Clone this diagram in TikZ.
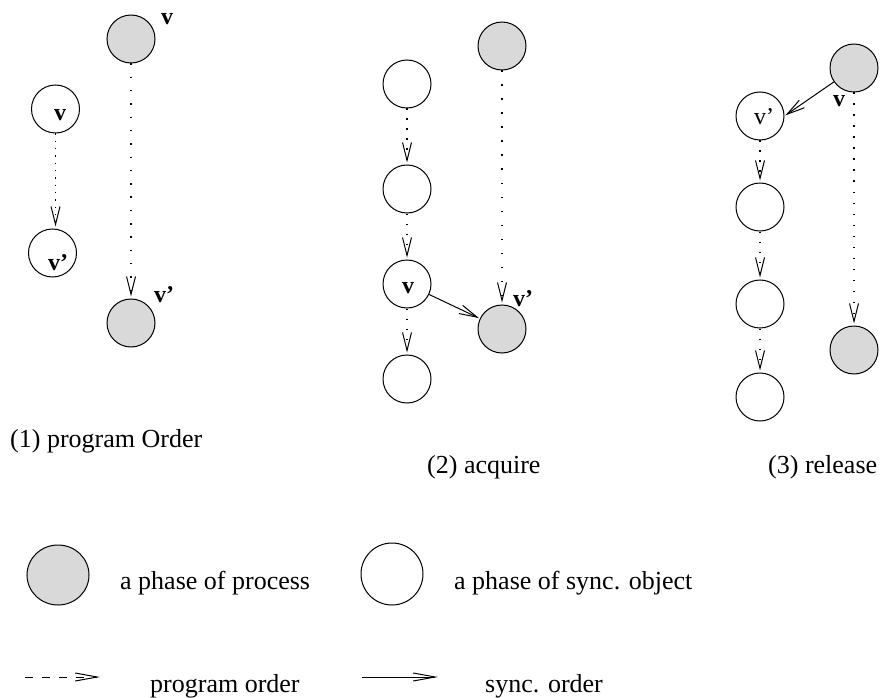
\documentclass[tikz,border=0pt]{standalone}
\usepackage{fontspec}
\setmainfont{Liberation Serif}
\usetikzlibrary{arrows.meta,shapes.geometric}
\definecolor{phasegray}{HTML}{D9D9D9}
\tikzset{
  phase/.style={circle, draw, line width=1pt, minimum size=48pt, inner sep=0pt},
  proc/.style={phase, fill=phasegray},
  sobj/.style={phase, fill=white},
  lab/.style={font=\fontsize{24}{28}\selectfont\bfseries, inner sep=0pt, anchor=base},
  labr/.style={font=\fontsize{24}{28}\selectfont, inner sep=0pt, anchor=base},
  txt/.style={font=\fontsize{26}{30}\selectfont, inner sep=0pt, anchor=base west},
  prog/.style={line width=1.3pt, dash pattern=on 1.4pt off #1, shorten >=2pt,
    -{Straight Barb[length=18pt,width=9pt,line width=1pt]}},
  sync/.style={line width=1pt, shorten >=1pt,
    -{Straight Barb[length=18pt,width=9pt,line width=1pt]}},
}
\begin{document}
\begin{tikzpicture}[x=1pt,y=-1pt]
\useasboundingbox (0,0) rectangle (881,698);
% ---------- panel 1 ----------
\node[proc] (p1gt) at (131,39) {};
\node[proc] (p1gb) at (131,323) {};
\node[sobj] (p1w1) at (55.5,109) {};
\node[sobj] (p1w2) at (52.5,253) {};
\node[lab] (l1a) at (60,121) {v};
\node[lab] (l1b) at (58,270) {v’};
\node[lab] (l1c) at (167,25) {v};
\node[lab] (l1d) at (164,302) {v’};
\draw[prog=5.9pt] (p1w1.south) -- (p1w1.south |- p1w2.north);
\draw[prog=11.9pt] (p1gt) -- (p1gb);
\node[txt] (cap1) at (10,447) {(1) program Order};
% ---------- panel 2 ----------
\node[proc] (p2gt) at (502,46) {};
\node[proc] (p2gb) at (502,329) {};
\node[sobj] (p2w1) at (407,84) {};
\node[sobj] (p2w2) at (407,189) {};
\node[sobj] (p2w3) at (407,284) {};
\node[sobj] (p2w4) at (407,379) {};
\node[lab] (l2a) at (408,293) {v};
\node[lab] (l2b) at (523,306) {v’};
\draw[prog=8.6pt] (p2w1) -- (p2w2);
\draw[prog=8.6pt] (p2w2) -- (p2w3);
\draw[prog=8.6pt] (p2w3) -- (p2w4);
\draw[prog=12.6pt] (p2gt) -- (p2gb);
\draw[sync] (p2w3) -- (p2gb);
\node[txt] (cap2) at (427,473) {(2) acquire};
% ---------- panel 3 ----------
\node[proc] (p3gt) at (854,68) {};
\node[proc] (p3gb) at (854,350) {};
\node[sobj] (p3w1) at (760,116) {};
\node[sobj] (p3w2) at (760,207) {};
\node[sobj] (p3w3) at (760,304) {};
\node[sobj] (p3w4) at (760,397) {};
\node[labr] (l3a) at (764,125) {v’};
\node[lab] (l3b) at (839,107) {v};
\draw[prog=8.6pt] (p3w1) -- (p3w2);
\draw[prog=8.6pt] (p3w2) -- (p3w3);
\draw[prog=8.6pt] (p3w3) -- (p3w4);
\draw[prog=9.6pt] (p3gt) -- (p3gb);
\draw[sync] (p3gt) -- (p3w1.east);
\node[txt] (cap3) at (768,473) {(3) release};
% ---------- legend ----------
\node[ellipse, draw, line width=1pt, fill=phasegray, minimum width=62pt, minimum height=60pt, inner sep=0pt] (lg1) at (58,575) {};
\node[sobj, minimum size=62pt] (lg2) at (392,574) {};
\node[txt] (lt1) at (120,589) {a phase of process};
\node[txt] (lt2) at (454,589) {a phase of sync. object};
\coordinate (da) at (25,677);
\coordinate (db) at (100,677);
\coordinate (sa) at (362,677);
\coordinate (sb) at (438,677);
\draw[line width=1pt, dash pattern=on 8pt off 9pt,
  -{Straight Barb[length=22pt,width=8pt,line width=1pt]}] (da) -- (db);
\draw[line width=1pt,
  -{Straight Barb[length=22pt,width=8pt,line width=1pt]}] (sa) -- (sb);
\node[txt] (lt3) at (150,692) {program order};
\node[txt] (lt4) at (485,692) {sync. order};
\end{tikzpicture}
\end{document}
